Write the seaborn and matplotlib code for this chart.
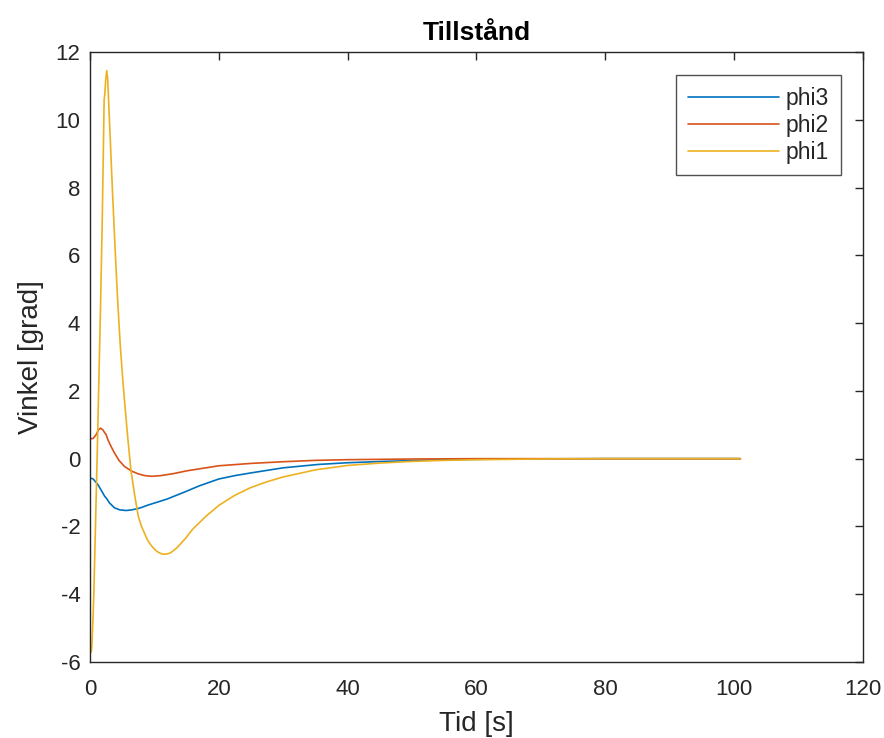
import matplotlib
matplotlib.use("Agg")
import matplotlib.pyplot as plt
import seaborn as sns
import pandas as pd

# phi1 (yellow)
t_phi1 = [0, 0.2, 0.3, 0.45, 0.6, 0.85, 1.1, 1.4, 1.65, 1.9, 2.1, 2.2, 2.3, 2.45, 2.6,
          2.75, 2.95, 3.15, 3.5, 3.9, 4.3, 4.7, 5.1, 5.5, 5.85, 6.15, 6.4, 7.0, 7.5, 8.0, 8.9,
          9.5, 10.0, 10.5, 11.0, 11.5, 12.0, 12.5, 13.5, 14.75, 16, 18, 20, 22.5, 25, 27.5,
          30, 35, 40, 45, 50, 55, 60, 70, 80, 101]
phi1 = [-5.73, -5.70, -5.5, -4.8, -3.96, -2.0, -0.03, 2.5, 4.6, 7.0, 9.4, 10.6, 10.75, 11.2, 11.45,
        11.2, 10.3, 9.41, 7.85, 6.2, 4.65, 3.35, 2.3, 1.4, 0.65, 0.05, -0.4, -1.15, -1.7, -2.0, -2.39,
        -2.56, -2.67, -2.75, -2.8, -2.82, -2.81, -2.78, -2.63, -2.37, -2.07, -1.7, -1.38, -1.08, -0.85, -0.68,
        -0.54, -0.33, -0.2, -0.13, -0.08, -0.05, -0.03, -0.01, 0.0, 0.0]

# phi2 (orange)
t_phi2 = [0, 0.5, 1.0, 1.3, 1.65, 2.0, 2.3, 2.5, 2.8, 3.3, 3.8, 4.5, 5.35, 6.5, 7.5, 8.5,
          9.6, 11, 13, 15, 18, 20, 25, 30, 35, 40, 50, 60, 101]
phi2 = [0.58, 0.6, 0.72, 0.85, 0.9, 0.85, 0.76, 0.71, 0.55, 0.35, 0.17, -0.05, -0.23, -0.37, -0.45, -0.5,
        -0.52, -0.5, -0.44, -0.36, -0.27, -0.21, -0.14, -0.09, -0.05, -0.03, -0.01, 0.0, 0.0]

# phi3 (blue)
t_phi3 = [0, 0.5, 1.24, 1.8, 2.28, 2.6, 3.0, 3.8, 4.6, 5.6, 6.5, 7.3, 8.0, 9.0, 10.0, 11.0, 12.0, 13.3, 14.75,
          17, 20, 22.5, 25, 30, 35.5, 40, 45.8, 55, 65, 80, 101]
phi3 = [-0.57, -0.6, -0.77, -0.95, -1.11, -1.18, -1.3, -1.45, -1.51, -1.53, -1.51, -1.48, -1.44, -1.37, -1.31, -1.25, -1.19, -1.09, -0.98,
        -0.8, -0.6, -0.5, -0.42, -0.27, -0.17, -0.12, -0.08, -0.03, -0.01, 0.0, 0.0]

series_names = ["phi3", "phi2", "phi1"]
colors = {"phi3": "#0072BD", "phi2": "#D95319", "phi1": "#EDB120"}

df = pd.concat([
    pd.DataFrame({"t": t_phi3, "v": phi3, "serie": "phi3"}),
    pd.DataFrame({"t": t_phi2, "v": phi2, "serie": "phi2"}),
    pd.DataFrame({"t": t_phi1, "v": phi1, "serie": "phi1"}),
], ignore_index=True)

sns.set_style("white")
plt.rcParams['font.family'] = ['Liberation Sans', 'DejaVu Sans']
plt.rcParams['axes.unicode_minus'] = False

fig = plt.figure(figsize=(8.84, 7.38), dpi=100)
ax = fig.add_axes([0.1018, 0.103, 0.8742, 0.8265])

sns.lineplot(data=df, x="t", y="v", hue="serie", hue_order=series_names,
             palette=colors, sort=False, estimator=None, linewidth=1.2, ax=ax)

ax.set_xlim(0, 120)
ax.set_ylim(-6, 12)
ax.set_xticks(range(0, 121, 20))
ax.set_yticks(range(-6, 13, 2))
ax.tick_params(direction="in", length=6, width=1, top=True, right=True,
               labelsize=16, colors="#262626")
ax.tick_params(axis="x", pad=12)
ax.tick_params(axis="y", pad=7)
for s in ax.spines.values():
    s.set_color("#262626")
    s.set_linewidth(1.0)
ax.set_xlabel("Tid [s]", fontsize=20, color="#262626", labelpad=8)
ax.set_ylabel("Vinkel [grad]", fontsize=20, color="#262626", labelpad=8)
ax.set_title("Tillstånd", fontsize=19, fontweight="bold", pad=9, color="black")

leg = ax.legend(loc="upper right", bbox_to_anchor=(0.9715, 0.962), fontsize=16.5,
                handlelength=4.0, frameon=True, fancybox=False, borderpad=0.5,
                labelspacing=0.18, handletextpad=0.3, borderaxespad=0)
leg.get_frame().set_edgecolor("#262626")
leg.get_frame().set_linewidth(1.0)

fig.savefig("out.png", dpi=100)
